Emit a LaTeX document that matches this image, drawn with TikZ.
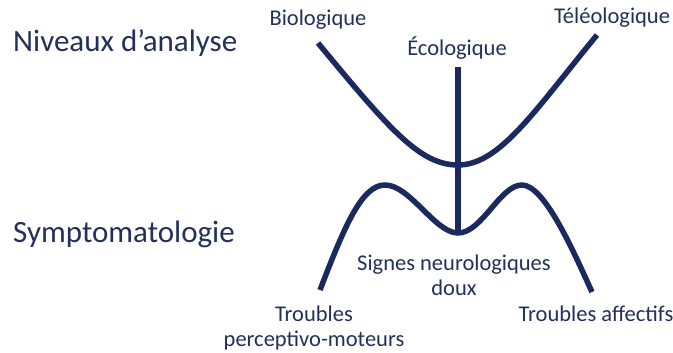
\documentclass[tikz,border=0pt]{standalone}
\usepackage{fontspec}
\setmainfont{Carlito}
\usetikzlibrary{positioning}
\definecolor{navyLine}{HTML}{1B2A5E}
\definecolor{navyText}{HTML}{22305A}

\begin{document}
\begin{tikzpicture}[
    x=1pt, y=-1pt,
    title/.style={anchor=west, text=navyText, font=\fontsize{31}{36}\selectfont, inner sep=0pt},
    term/.style={text=navyText, font=\fontsize{22.5}{25}\selectfont, align=center, inner sep=0pt},
    curve/.style={draw=navyLine, line width=5.5pt}
]
    \useasboundingbox (0,0) rectangle (673,353);

    \node[title] (niveaux) at (13,43) {Niveaux d’analyse};
    \node[title] (sympto) at (13,234) {Symptomatologie};

    \node[term] (bio) at (318,20) {Biologique};
    \node[term] (eco) at (457,48) {Écologique};
    \node[term] (teleo) at (612,18) {Téléologique};
    \node[term] (signes) at (454,275) {Signes neurologiques\\doux};
    \node[term] (percep) at (314,328) {Troubles\\perceptivo-moteurs};
    \node[term] (affect) at (596,314) {Troubles affectifs};

    % U des niveaux
    \coordinate (uL) at (318,43);
    \coordinate (uB) at (458,165);
    \coordinate (uR) at (597,35);
    % M des symptomes
    \coordinate (mL) at (320,290);
    \coordinate (mP1) at (385,185);
    \coordinate (mV) at (458,233);
    \coordinate (mP2) at (522,185);
    \coordinate (mR) at (592,292);
    \coordinate (ecoTop) at (458,67);

    \draw[curve] (uL) .. controls (390,130) and (420,165) .. (uB)
                      .. controls (500,165) and (535,110) .. (uR);
    \draw[curve] (ecoTop) -- (mV);
    \draw[curve] (mL) .. controls (345,225) and (362,185) .. (mP1)
                      .. controls (410,185) and (435,233) .. (mV)
                      .. controls (482,233) and (500,185) .. (mP2)
                      .. controls (545,185) and (575,255) .. (mR);
\end{tikzpicture}
\end{document}
